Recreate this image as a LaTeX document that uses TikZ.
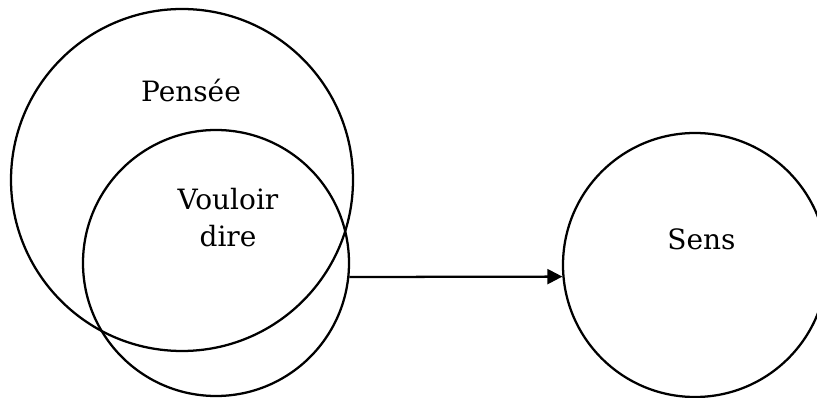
\documentclass[tikz,border=0pt]{standalone}
\usepackage{fontspec}
\setmainfont{DejaVu Serif}
\usetikzlibrary{arrows.meta}
\begin{document}
\begin{tikzpicture}[x=0.75pt,y=-0.75pt,
  ring/.style={draw=black,line width=1.7pt,circle,inner sep=0pt},
  lbl/.style={font=\fontsize{21}{28}\selectfont,inner sep=0pt,anchor=base,align=center},
  link/.style={line width=1.7pt,-{Triangle[length=11.25pt,width=11.25pt]}}]
\useasboundingbox (0,0) rectangle (817,398);
\clip (0,0) rectangle (817,398);
\node[ring,minimum size=256.5pt] (pensee) at (182,180) {};
\node[ring,minimum size=199.5pt] (vd) at (216,263) {};
\node[ring,minimum size=198pt] (sens) at (695,265) {};
\node[lbl] (tpensee) at (191,101.7) {Pensée};
\node[lbl] (tvd) at (228,246.7) {Vouloir\\dire};
\node[lbl] (tsens) at (701.5,250) {Sens};
\draw[link] (vd.-6) -- (sens.185);
\end{tikzpicture}
\end{document}
